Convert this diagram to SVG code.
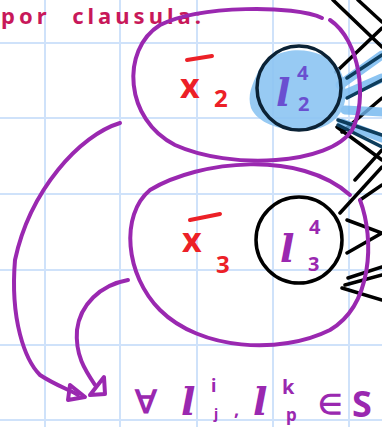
<svg xmlns="http://www.w3.org/2000/svg" width="382" height="427" viewBox="0 0 382 427">
<style>
.grid{stroke:#cfe2fa;stroke-width:2;fill:none}
.pur{stroke:#9a28b0;stroke-width:4;fill:none;stroke-linecap:round;stroke-linejoin:round}
.blk{stroke:#000;stroke-width:3.5;fill:none;stroke-linecap:round}
.bl{stroke:#6fb5ef;stroke-width:9;fill:none;stroke-linecap:round;opacity:.8}
.nv{stroke:#0e3d5c;stroke-width:3.5;fill:none;stroke-linecap:round}
.hand{font-family:"Noto Sans","Liberation Sans",sans-serif;font-weight:bold}
.ell{font-family:"DejaVu Serif","Liberation Serif",serif;font-style:italic;font-weight:bold}
.red{fill:#ec2027}
</style>
<rect width="382" height="427" fill="#fff"/>
<g id="grid">
<path class="grid" d="M45 0V427M120 0V427M197 0V427M273 0V427M349 0V427M0 43H382M0 118H382M0 194H382M0 270H382M0 345H382M0 420H382"/>
</g>
<text class="hand" x="1" y="24" font-size="22" letter-spacing="4" word-spacing="12" fill="#c8185a">por clausula:</text>
<g id="lines">
<path class="blk" d="M333 0L382 47M336 72L382 28M358 0L382 22M337 127L382 160M342 132L382 98M340 213L382 167M355 180L382 150M347 220L382 233M347 253L382 233M348 278L382 267M345 285L382 275M342 288L382 300M360 200L382 185"/>
<path class="bl" d="M340 85L382 55M343 95L382 78M342 123L382 138M345 110L382 112"/>
<path class="nv" d="M347 78L382 55M347 98L382 80M338 120L382 135M338 125L382 147"/>
</g>
<g id="node-x2">
<path class="pur" d="M322 18C295 5 200 5 160 25C120 50 125 120 175 145C230 170 330 165 352 130C368 100 360 40 330 20"/>
<text class="hand red" x="180" y="98" font-size="34" font-weight="normal">x</text>
<path d="M187 60L212 56" stroke="#ec2027" stroke-width="4" stroke-linecap="round"/>
<text class="hand red" x="214" y="107" font-size="24">2</text>
</g>
<g id="node-l2">
<path d="M258 72C270 45 320 42 340 70C352 95 345 120 320 128C295 134 260 128 251 108C247 95 252 85 258 72Z" fill="#8cc4f2" opacity=".9"/>
<circle cx="299" cy="88" r="42" fill="none" stroke="#0b2235" stroke-width="3.5"/>
<text class="ell" x="276" y="106" font-size="38" fill="#6a4fd0">l</text>
<text class="hand" x="297" y="80" font-size="20" fill="#6a4fd0">4</text>
<text class="hand" x="298" y="111" font-size="20" fill="#6a4fd0">2</text>
</g>
<g id="node-x3">
<path class="pur" d="M350 195C300 150 200 160 150 190C120 215 125 275 160 310C200 350 280 355 330 330C372 305 375 240 360 200"/>
<text class="hand red" x="182" y="252" font-size="34" font-weight="normal">x</text>
<path d="M190 220L220 214" stroke="#ec2027" stroke-width="4" stroke-linecap="round"/>
<text class="hand red" x="216" y="273" font-size="24">3</text>
</g>
<g id="node-l3">
<circle cx="299" cy="240" r="43" fill="none" stroke="#000" stroke-width="3.5"/>
<text class="ell" x="280" y="262" font-size="38" fill="#9a28b0">l</text>
<text class="hand" x="309" y="234" font-size="20" fill="#9a28b0">4</text>
<text class="hand" x="308" y="271" font-size="20" fill="#9a28b0">3</text>
</g>
<g id="connectors">
<path class="pur" d="M120 123C80 135 30 190 15 260C10 320 25 360 40 375C55 385 70 390 78 395"/>
<path class="pur" d="M70 385L85 397L68 400Z"/>
<path class="pur" d="M128 280C100 285 80 305 77 330C75 355 85 370 95 385"/>
<path class="pur" d="M90 395L104 377L105 394Z"/>
</g>
<g id="formula" fill="#9a28b0">
<text class="hand" x="135" y="413" font-size="32">∀</text>
<text class="ell" x="181" y="415" font-size="38">l</text>
<text class="hand" x="211" y="392" font-size="18">i</text>
<text class="hand" x="214" y="419" font-size="14">j</text>
<text class="hand" x="234" y="416" font-size="18">,</text>
<text class="ell" x="253" y="415" font-size="38">l</text>
<text class="hand" x="282" y="394" font-size="20">k</text>
<text class="hand" x="286" y="421" font-size="17">p</text>
<text class="hand" x="318" y="414" font-size="28">∈</text>
<text class="hand" x="352" y="417" font-size="36">S</text>
</g>
</svg>
